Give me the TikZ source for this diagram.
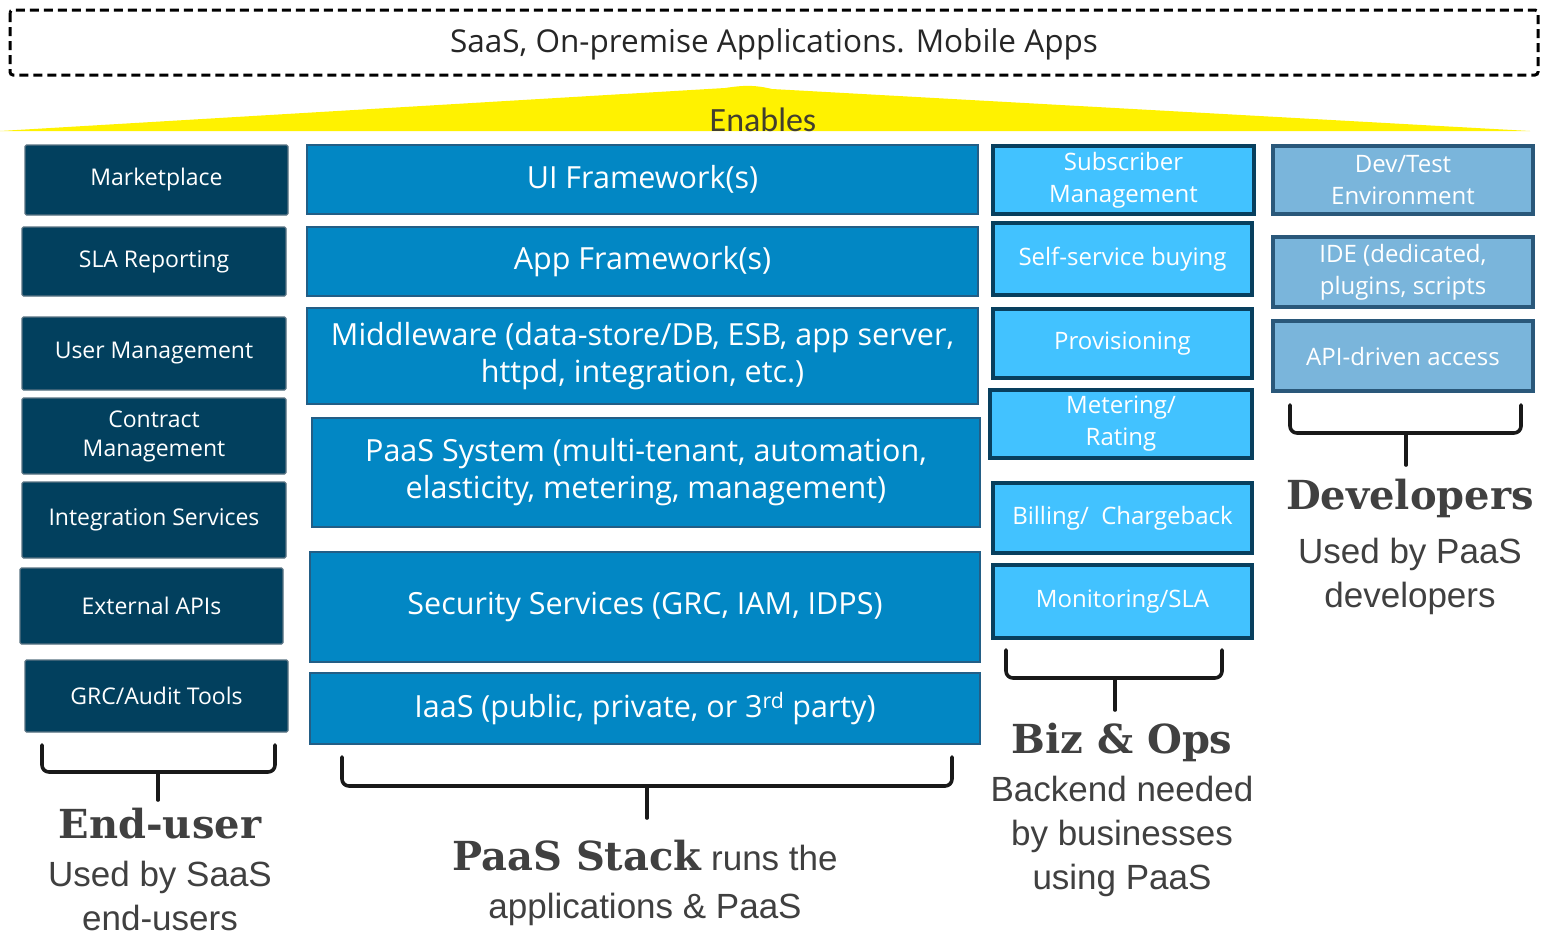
\documentclass[tikz,border=0pt]{standalone}
\usepackage{fontspec}
\setmainfont{Open Sans}
\newfontfamily\headfont{DejaVu Serif}
\newfontfamily\subfont{Liberation Sans}
\newfontfamily\enfont{Carlito}
\definecolor{navy}{HTML}{02405E}
\definecolor{navyedge}{HTML}{5A7484}
\definecolor{midblue}{HTML}{0287C4}
\definecolor{midedge}{HTML}{235E86}
\definecolor{cyanbox}{HTML}{42C2FF}
\definecolor{cyanedge}{HTML}{083F5E}
\definecolor{devbox}{HTML}{7AB5DB}
\definecolor{devedge}{HTML}{2A587A}
\definecolor{txtgray}{HTML}{404040}
\begin{document}
\begin{tikzpicture}[x=1pt,y=-1pt,
  lbox/.style={draw=navyedge,line width=1.2pt,fill=navy,text=white,font=\fontsize{23}{29}\selectfont,align=center,inner sep=0pt,rounded corners=1.5pt},
  mbox/.style={draw=midedge,line width=2pt,fill=midblue,text=white,font=\fontsize{30.5}{37}\selectfont,align=center,inner sep=0pt},
  bbox/.style={draw=cyanedge,line width=3.5pt,fill=cyanbox,text=white,font=\fontsize{24}{32}\selectfont,align=center,inner sep=0pt},
  dbox/.style={draw=devedge,line width=3.5pt,fill=devbox,text=white,font=\fontsize{24}{32}\selectfont,align=center,inner sep=0pt},
  bracket/.style={draw=black!90,line width=3.6pt,rounded corners=7pt,line cap=round},
  head/.style={text=txtgray,font=\headfont\bfseries\fontsize{40}{44}\selectfont,inner sep=0pt},
  sub/.style={text=txtgray,font=\subfont\fontsize{35}{44}\selectfont,align=center,inner sep=0pt}
]
\useasboundingbox (0,0) rectangle (1542,935);
\fill[white] (0,0) rectangle (1542,935);

% top dashed box
\draw[line width=3pt,dash pattern=on 9pt off 5pt,rounded corners=3pt] (10,10) rectangle (1538,75);
\node[font=\fontsize{31.5}{36}\selectfont,text=black!85] (top) at (774,44) {SaaS, On-premise Applications. Mobile Apps};

% yellow triangle
\fill[yellow] (0,131) -- (725,88) .. controls (745,85) and (755,85) .. (772,89) -- (1530,131) -- cycle;
\node[font=\enfont\fontsize{34}{36}\selectfont,text=black!70!olive,anchor=base] (en) at (763,131) {Enables};

% left column
\node[lbox,minimum width=263pt,minimum height=70pt] (mk) at (156.5,180) {Marketplace};
\node[lbox,minimum width=264pt,minimum height=69pt] (sla) at (154,261.5) {SLA Reporting};
\node[lbox,minimum width=264pt,minimum height=73pt] (um) at (154,353.5) {User Management};
\node[lbox,minimum width=264pt,minimum height=76pt] (cm) at (154,436) {Contract\\Management};
\node[lbox,minimum width=264pt,minimum height=76pt] (is) at (154,520) {Integration Services};
\node[lbox,minimum width=263pt,minimum height=76pt] (ea) at (151.5,606) {External APIs};
\node[lbox,minimum width=263pt,minimum height=72pt] (grc) at (156.5,696) {GRC/Audit Tools};

% middle column
\node[mbox,minimum width=671pt,minimum height=69pt] (ui) at (642.5,179.5) {UI Framework(s)};
\node[mbox,minimum width=671pt,minimum height=69pt] (app) at (642.5,261.5) {App Framework(s)};
\node[mbox,minimum width=671pt,minimum height=96pt] (mw) at (642.5,356) {Middleware (data-store/DB, ESB, app server,\\httpd, integration, etc.)};
\node[mbox,minimum width=668pt,minimum height=109pt] (ps) at (646,472.5) {PaaS System (multi-tenant, automation,\\elasticity, metering, management)};
\node[mbox,minimum width=670pt,minimum height=110pt] (sec) at (645,607) {Security Services (GRC, IAM, IDPS)};
\node[mbox,minimum width=670pt,minimum height=71pt] (iaas) at (645,708.5) {IaaS (public, private, or 3\textsuperscript{rd} party)};

% biz column
\node[bbox,minimum width=261pt,minimum height=68pt] (sub) at (1123.5,180) {Subscriber\\Management};
\node[bbox,minimum width=259pt,minimum height=72pt] (ssb) at (1122.5,259) {Self-service buying};
\node[bbox,minimum width=259pt,minimum height=69pt] (prov) at (1122.5,343.5) {Provisioning};
\node[bbox,minimum width=262pt,minimum height=68pt] (met) at (1121,424) {Metering/\\Rating};
\node[bbox,minimum width=259pt,minimum height=70pt] (bill) at (1122.5,518) {Billing/\ \ Chargeback};
\node[bbox,minimum width=259pt,minimum height=73pt] (mon) at (1122.5,601.5) {Monitoring/SLA};

% dev column
\node[dbox,minimum width=260pt,minimum height=68pt] (dev) at (1403,180) {Dev/Test\\Environment};
\node[dbox,minimum width=260pt,minimum height=70pt] (ide) at (1403,272) {IDE (dedicated,\\plugins, scripts};
\node[dbox,minimum width=260pt,minimum height=70pt] (api) at (1403,356) {API-driven access};

% brackets
\draw[bracket] (42,745) -- (42,772) -- (275,772) -- (275,745);
\draw[bracket] (158,772) -- (158,800);
\draw[bracket] (342,757) -- (342,786) -- (952,786) -- (952,757);
\draw[bracket] (647,786) -- (647,818);
\draw[bracket] (1006,650) -- (1006,678) -- (1222,678) -- (1222,650);
\draw[bracket] (1115,678) -- (1115,710);
\draw[bracket] (1290,405) -- (1290,433) -- (1521,433) -- (1521,405);
\draw[bracket] (1406,433) -- (1406,465);

% labels
\node[head] (euh) at (160,824) {End-user};
\node[sub] (eus) at (160,896) {Used by SaaS\\end-users};
\node[anchor=base,inner sep=0pt,text=txtgray] (psh) at (645,870) {{\headfont\bfseries\fontsize{40}{44}\selectfont PaaS Stack}{\subfont\fontsize{35}{44}\selectfont\ runs the}};
\node[sub,anchor=base] (pss) at (645,918) {applications \& PaaS};
\node[head] (bzh) at (1122,742) {Biz \& Ops};
\node[sub] (bzs) at (1122,836) {Backend needed\\by businesses\\using PaaS};
\node[head] (dvh) at (1410,498) {Developers};
\node[sub] (dvs) at (1410,576) {Used by PaaS\\developers};
\end{tikzpicture}
\end{document}
